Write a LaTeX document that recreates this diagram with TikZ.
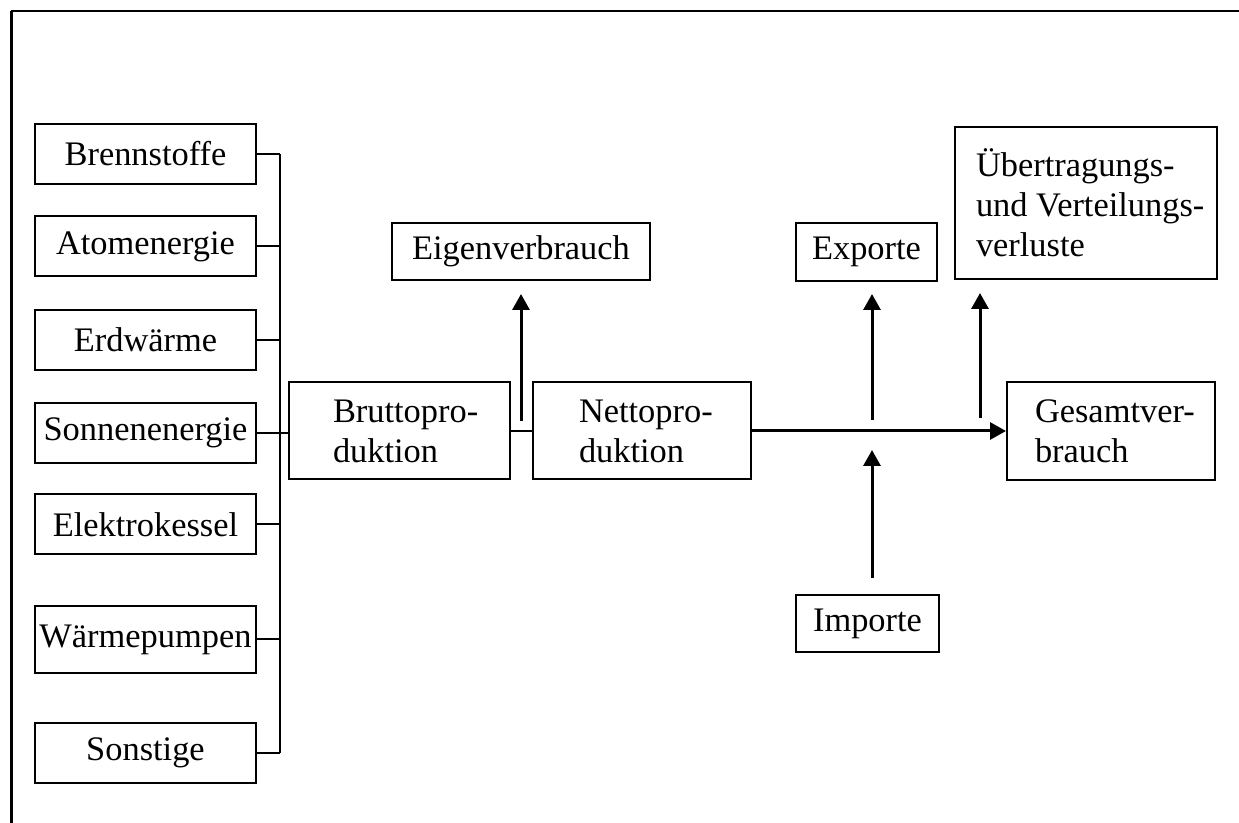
\documentclass[tikz,border=0pt]{standalone}
\usepackage{fontspec}
\setmainfont{Liberation Serif}
\usetikzlibrary{arrows.meta}
\tikzset{
	txt/.style={font=\fontsize{17.2}{20}\selectfont},
	box/.style={txt, draw, line width=1pt, shape=rectangle, inner sep=0},
	einzug/.style={align=left, execute at begin node={\leftskip=#1\relax\rightskip=0pt plus 1fil\relax\spaceskip=0.25em\relax}},
	flow/.style={line width=1pt},
	pfeil/.style={line width=1.5pt, -{Triangle[length=8pt, width=8.5pt]}}
}
\begin{document}
\begin{tikzpicture}[x=0.5pt, y=-0.5pt]
			\useasboundingbox (0,0) rectangle (1239,823);
			\draw[line width=1pt] (11,11) -- (1239,11);
			\draw[line width=1.5pt] (11,11) -- (11,823);
			\foreach \y/\h/\n/\T in {154/30pt/bs/Brennstoffe, 246.5/30pt/ae/Atomenergie, 340/30pt/ew/Erdwärme, 433/30pt/se/Sonnenenergie, 524.5/30pt/ek/Elektrokessel, 639.5/33.5pt/wp/Wärmepumpen, 753/30pt/so/Sonstige}
				{
					\node[box, minimum width=110.5pt, minimum height=\h] (\n) at (145.5,\y){\T};
				}
				\coordinate (bus) at (280,154);
				\draw[flow] (bs.east -| bus) -- (so.east -| bus);
			\foreach \n in {bs,ae,ew,ek,wp,so}
				{
					\draw[flow] (\n.east) -- (\n.east -| bus);
				}
				\node[box, einzug=22pt, text width=110.5pt, minimum height=48.5pt] (brutto) at (399.5,431){Bruttopro-\\duktion};
				\node[box, einzug=23pt, text width=109pt, minimum height=48.5pt] (netto) at (642,431){Nettopro-\\duktion};
				\node[box, einzug=14pt, text width=104pt, minimum height=49pt] (gesamt) at (1111,431){Gesamtver-\\brauch};
				\node[box, einzug=10.5pt, text width=131pt, minimum height=76pt] (verluste) at (1086,203){Übertragungs-\\und Verteilungs-\\verluste};
				\node[box, minimum width=129pt, minimum height=28.5pt] (eigen) at (521,251.5){Eigenverbrauch};
				\node[box, minimum width=70.5pt, minimum height=29pt] (export) at (866.5,252){Exporte};
				\node[box, minimum width=71.5pt, minimum height=28.5pt] (import) at (867.5,623.5){Importe};
				\draw[flow] (se.east) -- (se.east -| brutto.west);
				\draw[flow] (brutto.east) -- (netto.west);
				\draw[pfeil] (netto.east) -- (netto.east -| gesamt.west);
				\coordinate (e0) at (521,421);
				\coordinate (x0) at (872,420);
				\coordinate (v0) at (980,418);
				\coordinate (i1) at (872,450);
				\draw[pfeil, shorten >=6.5pt] (e0) -- (e0 |- eigen.south);
				\draw[pfeil, shorten >=6pt] (x0) -- (x0 |- export.south);
				\draw[pfeil, shorten >=6.5pt] (v0) -- (v0 |- verluste.south);
				\draw[pfeil, shorten <=8pt] (i1 |- import.north) -- (i1);
		\end{tikzpicture}
\end{document}
